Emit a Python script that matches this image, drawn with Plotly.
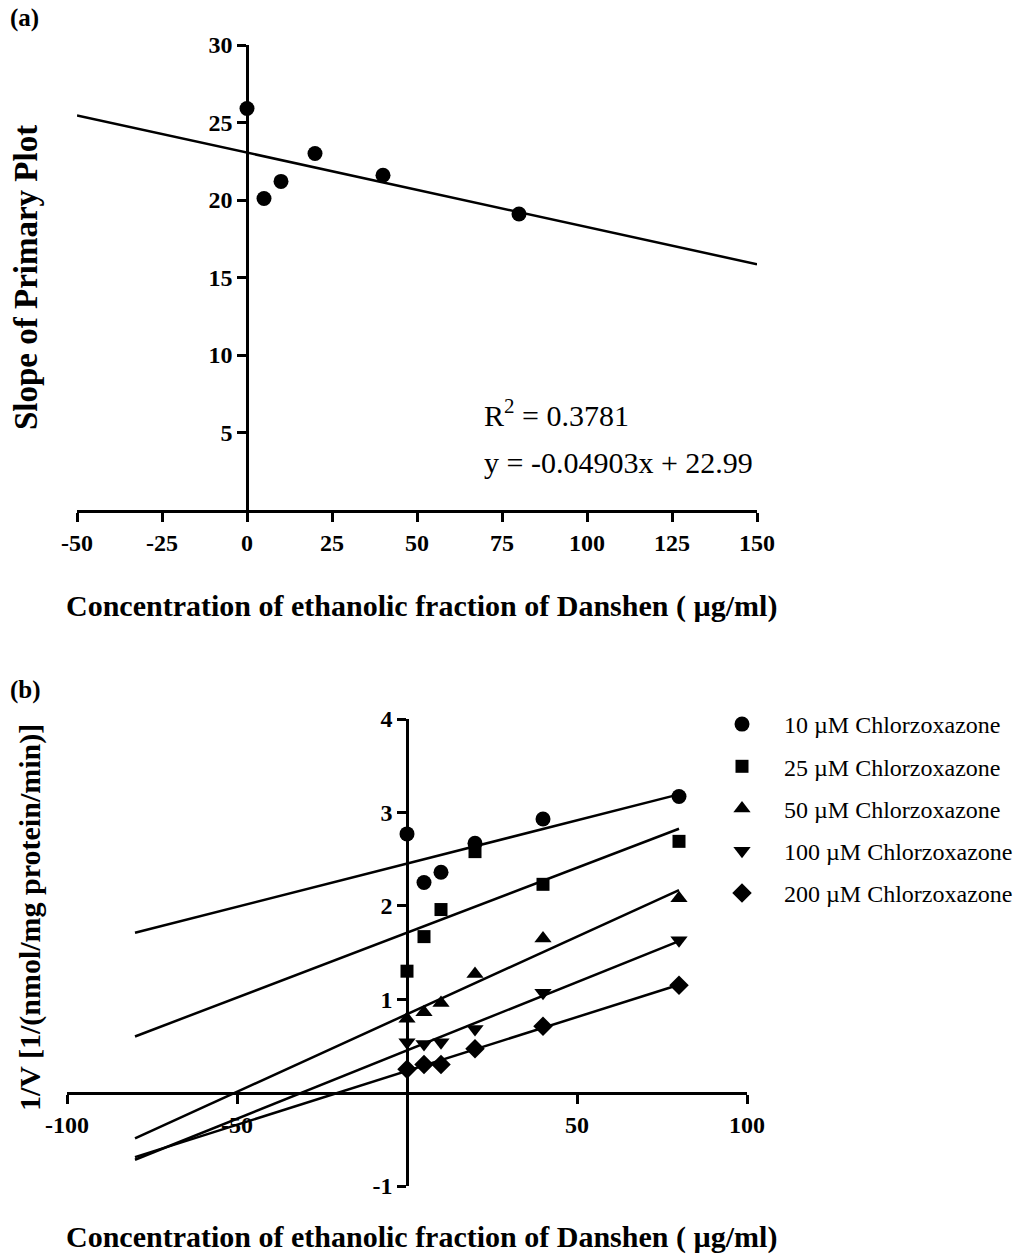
import numpy as np
import plotly.graph_objects as go

# ---------------- data ----------------
# Panel (a): secondary plot
a_conc = [0, 5, 10, 20, 40, 80]
a_slope = [25.9, 20.1, 21.2, 23.0, 21.6, 19.1]
a_r2_text = "R<sup>2</sup> = 0.3781"
a_eq_text = "y = -0.04903x + 22.99"

# Panel (b): Dixon plot
b_conc = [0, 5, 10, 20, 40, 80]
b_labels = ["10 µM Chlorzoxazone", "25 µM Chlorzoxazone", "50 µM Chlorzoxazone",
            "100 µM Chlorzoxazone", "200 µM Chlorzoxazone"]
inv_v_10 = [2.77, 2.25, 2.36, 2.67, 2.93, 3.17]
inv_v_25 = [1.30, 1.67, 1.96, 2.58, 2.23, 2.69]
inv_v_50 = [0.79, 0.86, 0.96, 1.27, 1.65, 2.08]
inv_v_100 = [0.54, 0.52, 0.54, 0.68, 1.07, 1.63]
inv_v_200 = [0.25, 0.30, 0.30, 0.47, 0.71, 1.15]
b_series = [inv_v_10, inv_v_25, inv_v_50, inv_v_100, inv_v_200]
b_symbols = ["circle", "square", "triangle-up", "triangle-down", "diamond"]

a_x_ticks = [-50, -25, 0, 25, 50, 75, 100, 125, 150]
a_x_ticktext = ["-50", "-25", "0", "25", "50", "75", "100", "125", "150"]
a_y_ticks = [5, 10, 15, 20, 25, 30]
a_y_ticktext = ["5", "10", "15", "20", "25", "30"]
b_x_ticks = [-100, -50, 50, 100]
b_x_ticktext = ["-100", "-50", "50", "100"]
b_y_ticks = [-1, 1, 2, 3, 4]
b_y_ticktext = ["-1", "1", "2", "3", "4"]

# fit line extents
a_line_x = [-50, 150]
b_line_x = [-80, 80]

# ---------------- layout helpers ----------------
W, H = 1022, 1259
def px(x):
    return x / W
def py(y):
    return 1 - y / H

SERIF = "Liberation Serif, Times New Roman, serif"
BLACK = "black"

fig = go.Figure()

# Panel (a)
fa = np.polyfit(a_conc, a_slope, 1)
fig.add_trace(go.Scatter(x=a_line_x, y=list(np.polyval(fa, a_line_x)), mode="lines",
                         line=dict(color=BLACK, width=2.5), showlegend=False,
                         xaxis="x", yaxis="y"))
fig.add_trace(go.Scatter(x=a_conc, y=a_slope, mode="markers",
                         marker=dict(symbol="circle", size=15, color=BLACK),
                         showlegend=False, xaxis="x", yaxis="y"))

# Panel (b)
for vals in b_series:
    f = np.polyfit(b_conc, vals, 1)
    fig.add_trace(go.Scatter(x=b_line_x, y=list(np.polyval(f, b_line_x)), mode="lines",
                             line=dict(color=BLACK, width=2.5), showlegend=False,
                             xaxis="x2", yaxis="y2"))
for vals, sym, lab in zip(b_series, b_symbols, b_labels):
    fig.add_trace(go.Scatter(x=b_conc, y=vals, mode="markers", name=lab,
                             legendgroup=lab,
                             marker=dict(symbol=sym, size=15 if sym != "square" else 13,
                                         color=BLACK),
                             xaxis="x2", yaxis="y2"))

tick_font = dict(family=SERIF, size=24, color=BLACK, weight="bold")
common = dict(showgrid=False, zeroline=False, showline=True, linecolor=BLACK,
              linewidth=2.5, ticks="outside", ticklen=9, tickwidth=2.5,
              tickcolor=BLACK, tickfont=tick_font, tickmode="array",
              automargin=False)

fig.update_layout(
    template="none",
    width=W, height=H,
    margin=dict(l=0, r=0, t=0, b=0, pad=0, autoexpand=False),
    paper_bgcolor="white", plot_bgcolor="white",
    xaxis=dict(domain=[px(77), px(757)], range=[-50, 150], tickvals=a_x_ticks,
               ticktext=a_x_ticktext, anchor="y", **common),
    yaxis=dict(domain=[py(510), py(45)], range=[0, 30], tickvals=a_y_ticks,
               ticktext=a_y_ticktext, anchor="free", position=px(247), **common),
    xaxis2=dict(domain=[px(67), px(747)], range=[-100, 100], tickvals=b_x_ticks,
                ticktext=b_x_ticktext, anchor="free", position=py(1093), **common),
    yaxis2=dict(domain=[py(1186), py(719)], range=[-1, 4], tickvals=b_y_ticks,
                ticktext=b_y_ticktext, anchor="free", position=px(407), **common),
    legend=dict(x=px(700), y=py(702), xanchor="left", yanchor="top",
                font=dict(family=SERIF, size=24, color=BLACK),
                itemwidth=74, tracegroupgap=8, bgcolor="rgba(0,0,0,0)",
                borderwidth=0),
    showlegend=True,
)

bold = dict(family=SERIF, color=BLACK, weight="bold")
annotations = [
    dict(text="(a)", x=px(8), y=py(18), xanchor="left", yanchor="middle",
         font=dict(size=25, **bold)),
    dict(text="(b)", x=px(8), y=py(690), xanchor="left", yanchor="middle",
         font=dict(size=25, **bold)),
    dict(text="Slope of Primary Plot", x=px(26), y=py(278), textangle=-90,
         xanchor="center", yanchor="middle", font=dict(size=33, **bold)),
    dict(text="Concentration of ethanolic fraction of Danshen ( µg/ml)",
         x=px(421), y=py(606), xanchor="center", yanchor="middle",
         font=dict(size=30, **bold)),
    dict(text="1/V [1/(nmol/mg protein/min)]", x=px(30), y=py(918), textangle=-90,
         xanchor="center", yanchor="middle", font=dict(size=30, **bold)),
    dict(text="Concentration of ethanolic fraction of Danshen ( µg/ml)",
         x=px(421), y=py(1237), xanchor="center", yanchor="middle",
         font=dict(size=30, **bold)),
    dict(text=a_r2_text, x=px(482), y=py(413), xanchor="left", yanchor="middle",
         font=dict(family=SERIF, size=30, color=BLACK)),
    dict(text=a_eq_text, x=px(482), y=py(462), xanchor="left", yanchor="middle",
         font=dict(family=SERIF, size=30, color=BLACK)),
]
for a in annotations:
    a.update(xref="paper", yref="paper", showarrow=False)
fig.update_layout(annotations=annotations)

fig.write_html("out.html")
